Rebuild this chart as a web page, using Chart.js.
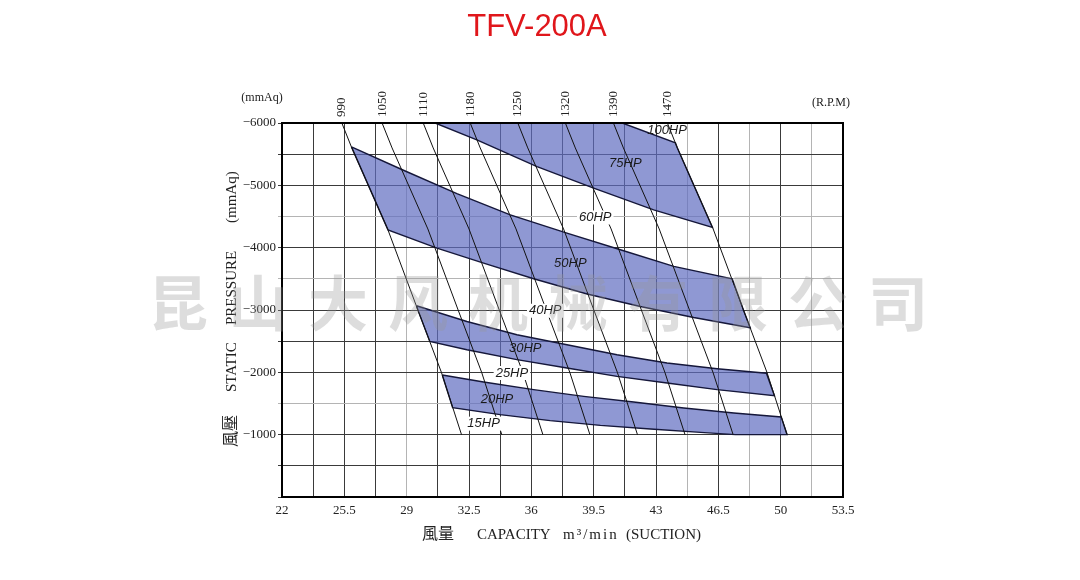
<!DOCTYPE html>
<html>
<head>
<meta charset="utf-8">
<script src="https://cdn.jsdelivr.net/npm/chart.js@4.4.1/dist/chart.umd.min.js"></script>
<style>
    html, body { margin: 0; padding: 0; background: #fff; }
    #wrap { width: 1080px; height: 580px; }
</style>
</head>
<body>
<div id="wrap"><canvas id="graphique" width="1080" height="580"></canvas></div>
<script>
// Axes
const xGrid = [22, 23.75, 25.5, 27.25, 29, 30.75, 32.5, 34.25, 36, 37.75, 39.5, 41.25, 43, 44.75, 46.5, 48.25, 50, 51.75, 53.5];
const xTickLabels = [22, 25.5, 29, 32.5, 36, 39.5, 43, 46.5, 50, 53.5];
const yGrid = [-6000, -5500, -5000, -4500, -4000, -3500, -3000, -2500, -2000, -1500, -1000, -500, 0];
const yTickLabels = [-6000, -5000, -4000, -3000, -2000, -1000];
const xLight = [29, 44.75, 48.25, 51.75];
const yLight = [-4500, -3500, -1500];

// Lignes de vitesse (R.P.M) : X lu pour chaque niveau de pression rpmY
const rpmLabels = ['990', '1050', '1110', '1180', '1250', '1320', '1390', '1470'];
const rpmY = [-6000, -5600, -4300, -3000, -2000, -1000];
const rpmX = [
    [25.36, 25.92, 27.93, 29.63, 30.95, 32.08],
    [27.62, 28.18, 30.19, 31.89, 33.21, 34.34],
    [29.93, 30.49, 32.50, 34.20, 35.52, 36.65],
    [32.57, 33.13, 35.14, 36.84, 38.16, 39.29],
    [35.24, 35.80, 37.81, 39.51, 40.83, 41.96],
    [37.91, 38.47, 40.48, 42.18, 43.50, 44.63],
    [40.61, 41.17, 43.18, 44.88, 46.20, 47.33],
    [43.64, 44.20, 46.21, 47.91, 49.23, 50.36]
];

// Zones de puissance (contours fermés)
const zone100 = [[30.60, -6000], [41.11, -6000], [44.09, -5681], [44.20, -5600], [46.17, -4325],
    [42.87, -4607], [39.50, -4955], [36.32, -5301], [32.94, -5729], [30.60, -6000]];
const zone60 = [[25.90, -5617], [28.82, -5242], [31.82, -4866], [34.82, -4527], [38.00, -4233],
    [41.00, -3966], [44.00, -3699], [47.28, -3500], [47.91, -3000], [48.29, -2715],
    [45.12, -2879], [42.12, -3057], [39.13, -3256], [36.13, -3501], [33.32, -3753],
    [30.70, -3993], [27.95, -4286], [25.90, -5617]];
const zone40 = [[29.55, -3068], [32.38, -2816], [35.19, -2603], [38.00, -2443], [40.81, -2282],
    [43.62, -2149], [46.43, -2058], [49.20, -1985], [49.65, -1625],
    [46.43, -1722], [43.62, -1829], [40.81, -1935], [38.00, -2069], [35.19, -2203],
    [32.38, -2363], [30.30, -2496], [29.63, -3000], [29.55, -3068]];
const zone25 = [[31.00, -1957], [33.32, -1845], [36.13, -1722], [38.94, -1614], [41.75, -1524],
    [44.56, -1428], [47.37, -1348], [50.03, -1284], [50.36, -1000], [47.46, -1000],
    [45.50, -1037], [42.69, -1092], [39.88, -1149], [37.06, -1225], [34.25, -1321],
    [31.58, -1432], [31.00, -1957]];

// Etiquettes de puissance
const hpLabels = ['100HP', '75HP', '60HP', '50HP', '40HP', '30HP', '25HP', '20HP', '15HP'];
const hpX = [43.62, 41.28, 39.59, 38.19, 36.78, 35.66, 34.91, 34.07, 33.32];
const hpY = [-5889, -5356, -4484, -3741, -2988, -2390, -1989, -1573, -1177];
const hpOnWhite = [false, false, true, false, true, false, true, false, true];

const serif = '"Liberation Serif", "DejaVu Serif", "Noto Sans CJK JP", serif';
const sans = '"Liberation Sans", Arial, sans-serif';

const datasets = [];

rpmX.forEach((xs, i) => {
    datasets.push({
        label: rpmLabels[i],
        data: xs.map((v, j) => ({x: v, y: rpmY[j]})),
        borderColor: '#111',
        borderWidth: 1,
        pointRadius: 0,
        fill: false,
        tension: 0,
        order: 0
    });
});

[zone100, zone60, zone40, zone25].forEach((zone) => {
    datasets.push({
        data: zone.map(p => ({x: p[0], y: p[1]})),
        borderColor: '#15173a',
        borderWidth: 1.4,
        backgroundColor: 'rgba(95,108,192,0.7)',
        pointRadius: 0,
        fill: 'shape',
        tension: 0,
        order: 1
    });
});

const decor = {
    id: 'decor',
    afterDraw(chart) {
        const ctx = chart.ctx;
        const a = chart.chartArea;
        const x = chart.scales.x;
        const y = chart.scales.y;
        ctx.save();

        // cadre
        ctx.strokeStyle = '#000';
        ctx.lineWidth = 2;
        ctx.strokeRect(a.left, a.top, a.right - a.left, a.bottom - a.top);

        // puissance
        ctx.font = 'italic 13px ' + sans;
        ctx.textAlign = 'center';
        ctx.textBaseline = 'middle';
        hpLabels.forEach((txt, i) => {
            const px = x.getPixelForValue(hpX[i]);
            const py = y.getPixelForValue(hpY[i]);
            if (hpOnWhite[i]) {
                const w = ctx.measureText(txt).width;
                ctx.fillStyle = '#fff';
                ctx.fillRect(px - w / 2 - 2, py - 7, w + 4, 14);
            }
            ctx.fillStyle = '#1a1a1a';
            ctx.fillText(txt, px, py);
        });

        // vitesses en haut
        ctx.font = '13px ' + serif;
        ctx.fillStyle = '#222';
        rpmLabels.forEach((txt, i) => {
            ctx.save();
            ctx.translate(x.getPixelForValue(rpmX[i][0]), a.top - 6);
            ctx.rotate(-Math.PI / 2);
            ctx.textAlign = 'left';
            ctx.textBaseline = 'middle';
            ctx.fillText(txt, 0, 0);
            ctx.restore();
        });
        ctx.font = '12px ' + serif;
        ctx.textAlign = 'center';
        ctx.fillText('(mmAq)', a.left - 20, a.top - 25);
        ctx.fillText('(R.P.M)', a.right - 12, a.top - 20);

        // titre
        ctx.font = '31px ' + sans;
        ctx.fillStyle = '#e0161b';
        ctx.fillText('TFV-200A', 537, 27);

        // titres des axes
        ctx.fillStyle = '#222';
        ctx.textAlign = 'left';
        [['風量', 422, 16, 0], ['CAPACITY', 477, 15, 0], ['m³/min', 563, 15, 2], ['(SUCTION)', 626, 15, 0]].forEach(([txt, px, size, sp]) => {
            ctx.font = size + 'px ' + serif;
            ctx.letterSpacing = sp + 'px';
            ctx.fillText(txt, px, 535);
        });
        ctx.letterSpacing = '0px';
        [['風壓', 447, 16], ['STATIC', 392, 15], ['PRESSURE', 325, 15], ['(mmAq)', 223, 15]].forEach(([txt, py, size]) => {
            ctx.save();
            ctx.font = size + 'px ' + serif;
            ctx.translate(a.left - 50, py);
            ctx.rotate(-Math.PI / 2);
            ctx.textAlign = 'left';
            ctx.textBaseline = 'middle';
            ctx.fillText(txt, 0, 0);
            ctx.restore();
        });

        // filigrane
        ctx.textAlign = 'center';
        ctx.font = 'bold 60px "Noto Sans CJK SC", sans-serif';
        ctx.fillStyle = 'rgba(150,150,150,0.32)';
        Array.from('昆山大风机械有限公司').forEach((c, i) => {
            ctx.fillText(c, 178 + 80 * i, 303);
        });
        ctx.restore();
    }
};

new Chart(document.getElementById('graphique').getContext('2d'), {
    type: 'line',
    data: {datasets: datasets},
    options: {
        responsive: false,
        animation: false,
        devicePixelRatio: 1,
        layout: {padding: {top: 123, right: 237, bottom: 0, left: 0}},
        plugins: {
            legend: {display: false},
            tooltip: {enabled: false},
            title: {display: false}
        },
        scales: {
            x: {
                type: 'linear',
                position: 'bottom',
                min: 22,
                max: 53.5,
                afterBuildTicks: (scale) => { scale.ticks = xGrid.map(v => ({value: v})); },
                afterFit: (scale) => { scale.height = 83; },
                ticks: {
                    autoSkip: false,
                    maxRotation: 0,
                    padding: 6,
                    color: '#222',
                    font: {family: serif, size: 13},
                    callback: (v) => xTickLabels.includes(v) ? String(v) : ''
                },
                grid: {
                    drawTicks: false,
                    color: (c) => c.tick && xLight.includes(c.tick.value) ? '#b4b4b4' : '#3a3a3a'
                },
                border: {display: false}
            },
            y: {
                type: 'linear',
                min: -6000,
                max: 0,
                reverse: true,
                afterBuildTicks: (scale) => { scale.ticks = yGrid.map(v => ({value: v})); },
                afterFit: (scale) => { scale.width = 282; },
                ticks: {
                    autoSkip: false,
                    padding: 2,
                    color: '#222',
                    font: {family: serif, size: 13},
                    callback: (v) => yTickLabels.includes(v) ? '\u2212' + Math.abs(v) : ''
                },
                grid: {
                    tickLength: 4,
                    color: (c) => c.tick && yLight.includes(c.tick.value) ? '#b4b4b4' : '#3a3a3a'
                },
                border: {display: false}
            }
        }
    },
    plugins: [decor]
});
</script>
</body>
</html>
